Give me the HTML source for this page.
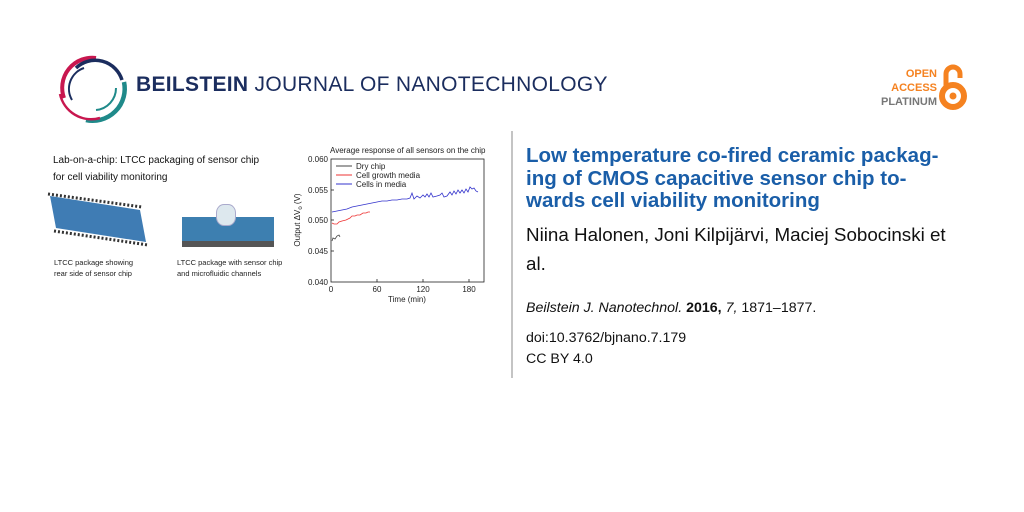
<!DOCTYPE html>
<html><head><meta charset="utf-8"><style>
body{margin:0;width:1024px;height:512px;background:#fff;position:relative;overflow:hidden;font-family:"Liberation Sans",sans-serif}
.a{position:absolute;white-space:nowrap}
</style></head><body>
<svg class="a" style="left:0;top:0" width="1024" height="512">
<!-- logo -->
<path d="M64,98 A30,30 0 0 1 96,58" fill="none" stroke="#c8174f" stroke-width="4"/>
<path d="M76,68 A28,28 0 0 1 122,80" fill="none" stroke="#1b2d5e" stroke-width="3.5"/>
<path d="M124,82 A32,32 0 0 1 86,120" fill="none" stroke="#1f8a8a" stroke-width="4.5"/>
<path d="M60,94 A32,32 0 0 0 100,118" fill="none" stroke="#c8174f" stroke-width="2.5"/>
<path d="M72,100 A22,22 0 0 1 84,68" fill="none" stroke="#1b2d5e" stroke-width="2"/>
<path d="M116,88 A22,22 0 0 1 96,110" fill="none" stroke="#1f8a8a" stroke-width="2"/>
<!-- divider -->
<line x1="512" y1="131" x2="512" y2="378" stroke="#888" stroke-width="1"/>
<!-- OA lock -->
<circle cx="953" cy="96" r="11" fill="none" stroke="#f58220" stroke-width="6"/>
<circle cx="953" cy="96" r="3.5" fill="#f58220"/>
<path d="M946,86 V74 A7,7 0 0 1 960,74 V78" fill="none" stroke="#f58220" stroke-width="5"/>
<!-- chart -->
<g font-family="Liberation Sans" font-size="8" fill="#222">
<rect x="331" y="159" width="153" height="123" fill="none" stroke="#222" stroke-width="0.8"/>
<g stroke="#222" stroke-width="0.8">
<line x1="331" y1="190" x2="334" y2="190"/><line x1="331" y1="220" x2="334" y2="220"/><line x1="331" y1="251" x2="334" y2="251"/>
<line x1="377" y1="282" x2="377" y2="279"/><line x1="423" y1="282" x2="423" y2="279"/><line x1="469" y1="282" x2="469" y2="279"/>
</g>
<text x="328" y="162" text-anchor="end">0.060</text>
<text x="328" y="193" text-anchor="end">0.055</text>
<text x="328" y="223" text-anchor="end">0.050</text>
<text x="328" y="254" text-anchor="end">0.045</text>
<text x="328" y="285" text-anchor="end">0.040</text>
<text x="331" y="292" text-anchor="middle">0</text><text x="377" y="292" text-anchor="middle">60</text><text x="423" y="292" text-anchor="middle">120</text><text x="469" y="292" text-anchor="middle">180</text>
<text x="407" y="302" text-anchor="middle">Time (min)</text>
<text transform="translate(300,220) rotate(-90)" text-anchor="middle">Output ΔV<tspan font-size="6" dy="2">o</tspan><tspan dy="-2"> (V)</tspan></text>
<text x="330" y="153" font-size="8">Average response of all sensors on the chip</text>
<line x1="336" y1="166" x2="352" y2="166" stroke="#444"/><text x="356" y="169">Dry chip</text>
<line x1="336" y1="175" x2="352" y2="175" stroke="#e33"/><text x="356" y="178">Cell growth media</text>
<line x1="336" y1="184" x2="352" y2="184" stroke="#33c"/><text x="356" y="187">Cells in media</text>
</g>
<polyline fill="none" stroke="#444" stroke-width="0.8" points="332,241 333,238 335,239 337,236 339,235 340,237"/>
<polyline fill="none" stroke="#e33" stroke-width="0.8" points="332,223 334,224 337,224 339,222 342,221 346,220 348,219 350,218 352,216 355,216 357,215 360,215 363,213 366,213 368,212 370,212"/>
<polyline fill="none" stroke="#33c" stroke-width="0.8" points="332,212 337,211 342,210 347,209 352,207 357,206 362,205 367,204 372,203 377,202 382,201 387,201 392,200 397,200 402,199 407,199 410,198 412,193 414,199 417,196 420,198 423,195 425,197 427,194 429,197 431,193 433,197 437,196 440,195 442,193 444,197 447,196 450,192 452,195 454,191 456,194 458,190 460,193 462,190 464,193 466,189 468,192 470,187 472,189 474,188 476,191 478,192"/>
<!-- chip 1 -->
<polygon points="50,196 140,210 146,242 56,228" fill="#3f7cb4"/>
<line x1="48" y1="194" x2="142" y2="207" stroke="#333" stroke-width="3" stroke-dasharray="2 2"/>
<line x1="54" y1="231" x2="148" y2="245" stroke="#333" stroke-width="3" stroke-dasharray="2 2"/>
</svg>
<div class="a" style="left:136px;top:73px;font-size:21px;color:#1b2d5e;letter-spacing:0.3px"><b>BEILSTEIN</b> JOURNAL OF NANOTECHNOLOGY</div>
<div class="a" style="left:868px;top:67px;width:69px;text-align:right;font-size:11px;font-weight:bold;line-height:14px;color:#f58220">OPEN<br>ACCESS<br><span style="color:#777">PLATINUM</span></div>
<div class="a" style="left:53px;top:152px;font-size:10px;color:#111;line-height:17px">Lab-on-a-chip: LTCC packaging of sensor chip<br>for cell viability monitoring</div>
<div class="a" style="left:182px;top:217px;width:92px;height:24px;background:#3d7fb0"></div>
<div class="a" style="left:182px;top:241px;width:92px;height:6px;background:#555"></div>
<div class="a" style="left:216px;top:204px;width:18px;height:20px;border:1px solid #aac;border-radius:40%;background:#dde8ee"></div>
<div class="a" style="left:54px;top:257px;font-size:7.5px;color:#222;line-height:11px">LTCC package showing<br>rear side of sensor chip</div>
<div class="a" style="left:177px;top:257px;font-size:7.5px;color:#222;line-height:11px">LTCC package with sensor chip<br>and microfluidic channels</div>
<div class="a" style="left:526px;top:145px;font-size:20.5px;font-weight:bold;color:#1a5ea8;line-height:22.5px">Low temperature co-fired ceramic packag-<br>ing of CMOS capacitive sensor chip to-<br>wards cell viability monitoring</div>
<div class="a" style="left:526px;top:220px;font-size:18.8px;color:#111;line-height:29px">Niina Halonen, Joni Kilpijärvi, Maciej Sobocinski et<br>al.</div>
<div class="a" style="left:526px;top:300px;font-size:14.2px;color:#111"><i>Beilstein J. Nanotechnol.</i> <b>2016,</b> <i>7,</i> 1871–1877.</div>
<div class="a" style="left:526px;top:328px;font-size:14.2px;color:#111;line-height:21px">doi:10.3762/bjnano.7.179<br>CC BY 4.0</div>
</body></html>
